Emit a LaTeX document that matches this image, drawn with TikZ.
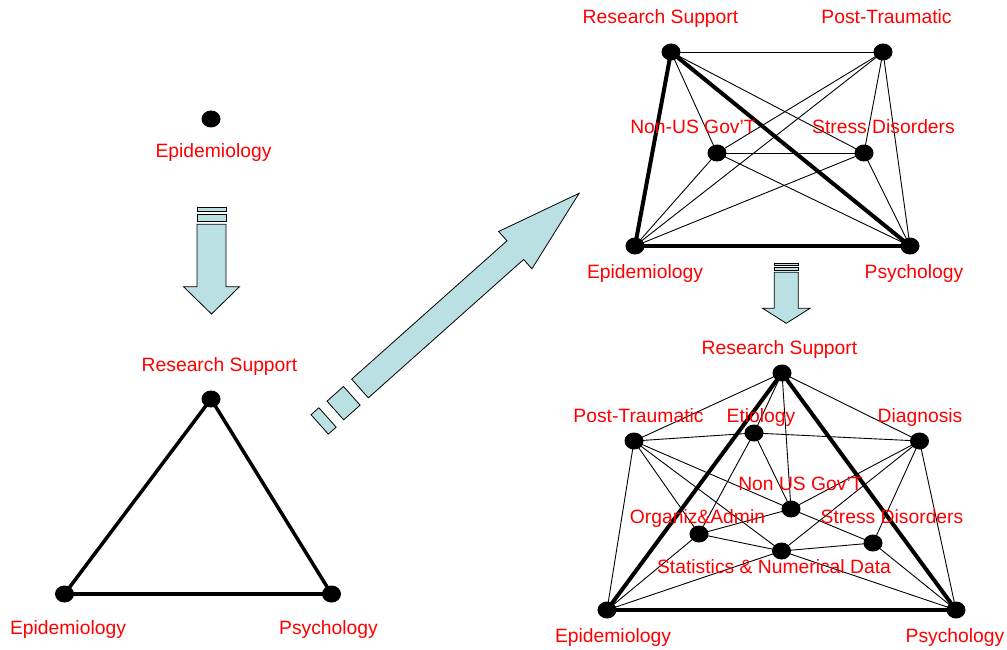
\documentclass[tikz,border=0pt]{standalone}
\usepackage{fontspec}
\setmainfont{Liberation Sans}
\usetikzlibrary{shapes.geometric}
\definecolor{lblred}{RGB}{255,0,0}
\definecolor{arrowfill}{RGB}{187,224,227}
\begin{document}
\begin{tikzpicture}[x=1pt,y=1pt,
  dot/.style={ellipse,fill=black,inner sep=0pt,minimum width=19pt,minimum height=17pt},
  lbl/.style={text=lblred,font=\fontsize{19.3}{22}\selectfont,anchor=base,inner sep=0pt},
  thinedge/.style={draw=black,line width=0.9pt},
  thickedge/.style={draw=black,line width=4pt},
  triedge/.style={draw=black,line width=3.5pt,line cap=round},
  blockarrow/.style={fill=arrowfill,draw=black,line width=0.8pt,line join=miter}
]
\useasboundingbox (0,0) rectangle (1007,-650);

% ---------- single node ----------
\node[dot] (e0) at (211,-119) {};
\node[lbl] (e0l) at (213.5,-158) {Epidemiology};

% ---------- down arrow (left) ----------
\fill[blockarrow] (197,-207.7) rectangle (226,-211);
\fill[blockarrow] (197,-214.3) rectangle (226,-221.7);
\filldraw[blockarrow] (197,-224.3) -- (226,-224.3) -- (226,-286.7) -- (239.5,-286.7)
  -- (211.5,-314) -- (183.5,-286.7) -- (197,-286.7) -- cycle;

% ---------- triangle ----------
\node[dot] (trs) at (211,-399) {};
\node[dot] (tep) at (64.5,-594) {};
\node[dot] (tps) at (331.5,-594) {};
\draw[triedge] (trs.center) -- (tep.center);
\draw[triedge] (trs.center) -- (tps.center);
\draw[triedge] (tep.center) -- (tps.center);
\node[lbl] (trsl) at (219.5,-371) {Research Support};
\node[lbl] (tepl) at (68,-634) {Epidemiology};
\node[lbl] (tpsl) at (328.5,-634) {Psychology};

% ---------- diagonal arrow ----------
\begin{scope}[shift={(360,-388.5)},rotate=41.7]
  \filldraw[blockarrow] (-54,-13) rectangle (-43.5,13);
  \filldraw[blockarrow] (-33,-12.5) rectangle (-11,12.5);
  \filldraw[blockarrow] (0,-12.5) -- (208,-12.5) -- (208,-25) -- (293.5,0)
    -- (208,25) -- (208,12.5) -- (0,12.5) -- cycle;
\end{scope}

% ---------- top-right graph ----------
\node[dot] (ars) at (671,-52) {};
\node[dot] (apt) at (883,-52) {};
\node[dot] (anu) at (717,-153) {};
\node[dot] (asd) at (864,-153) {};
\node[dot] (aep) at (635,-246) {};
\node[dot] (aps) at (910,-246) {};
\foreach \a/\b in {ars/apt,ars/anu,ars/asd,apt/anu,apt/aep,apt/asd,apt/aps,anu/asd,anu/aep,anu/aps,asd/aep,asd/aps}
  \draw[thinedge] (\a.center) -- (\b.center);
\foreach \a/\b in {ars/aep,ars/aps,aep/aps}
  \draw[thickedge] (\a.center) -- (\b.center);
\node[lbl] (arsl) at (660.5,-24) {Research Support};
\node[lbl] (aptl) at (886.5,-24) {Post-Traumatic};
\node[lbl] (anul) at (693,-134) {Non-US Gov'T};
\node[lbl] (asdl) at (883.5,-134) {Stress Disorders};
\node[lbl] (aepl) at (645,-278) {Epidemiology};
\node[lbl] (apsl) at (914,-278) {Psychology};

% ---------- down arrow (right) ----------
\fill[blockarrow] (774.3,-263.3) rectangle (798.3,-265.7);
\fill[blockarrow] (774.3,-267.3) rectangle (798.3,-270.3);
\filldraw[blockarrow] (774.3,-272.3) -- (798.3,-272.3) -- (798.3,-308.3) -- (810,-308.3)
  -- (786.3,-323.3) -- (762.6,-308.3) -- (774.3,-308.3) -- cycle;

% ---------- bottom-right graph ----------
\node[dot] (brs) at (782,-373) {};
\node[dot] (bpt) at (634,-441) {};
\node[dot] (bet) at (754,-433) {};
\node[dot] (bdg) at (919.5,-441) {};
\node[dot] (bnu) at (791,-509) {};
\node[dot] (boa) at (699,-534) {};
\node[dot] (bsd) at (873,-543) {};
\node[dot] (bst) at (781.5,-551) {};
\node[dot] (bep) at (607,-610) {};
\node[dot] (bps) at (956,-610) {};
\foreach \a/\b in {brs/bpt,brs/bet,brs/bnu,brs/bdg,bpt/bet,bet/bdg,bpt/bep,bpt/bnu,bpt/boa,bpt/bst,
  bet/boa,bet/bnu,bdg/bnu,bdg/bst,bdg/bsd,bdg/bps,boa/bnu,boa/bst,boa/bep,bnu/bsd,bst/bsd,bst/bep,bst/bps,bsd/bps}
  \draw[thinedge] (\a.center) -- (\b.center);
\foreach \a/\b in {brs/bep,brs/bps,bep/bps}
  \draw[thickedge] (\a.center) -- (\b.center);
\node[lbl] (brsl) at (779.5,-354) {Research Support};
\node[lbl] (bptl) at (638.5,-422) {Post-Traumatic};
\node[lbl] (betl) at (761,-422) {Etiology};
\node[lbl] (bdgl) at (920,-422) {Diagnosis};
\node[lbl] (bnul) at (800.5,-490) {Non US Gov'T};
\node[lbl] (boal) at (697.5,-523) {Organiz\&Admin};
\node[lbl] (bsdl) at (892,-523) {Stress Disorders};
\node[lbl] (bstl) at (774,-573) {Statistics \& Numerical Data};
\node[lbl] (bepl) at (613,-642) {Epidemiology};
\node[lbl] (bpsl) at (955,-642) {Psychology};
\end{tikzpicture}
\end{document}
